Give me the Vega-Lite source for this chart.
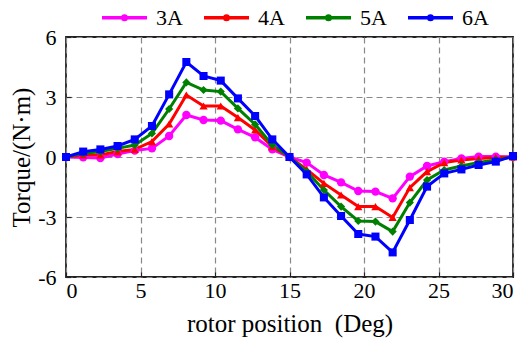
{
  "$schema": "https://vega.github.io/schema/vega-lite/v6.json",
  "width": 447,
  "height": 240,
  "autosize": {"type": "none"},
  "padding": {"left": 66, "top": 37, "right": 11, "bottom": 61},
  "background": "white",
  "config": {
    "view": {"stroke": "#222222", "strokeWidth": 1.8},
    "font": "Liberation Serif",
    "axis": {
      "labelFont": "Liberation Serif",
      "titleFont": "Liberation Serif",
      "labelColor": "black",
      "titleColor": "black",
      "titleFontWeight": "normal",
      "domain": false,
      "tickColor": "#222222",
      "tickSize": -5,
      "tickWidth": 1.2,
      "grid": true,
      "gridColor": "#888888",
      "gridDash": [6, 4],
      "gridWidth": 1.2,
      "labelFontSize": 22,
      "titleFontSize": 25
    },
    "legend": {"labelFont": "Liberation Serif"}
  },
  "datasets": {
    "torque": [
      {"pos": 0, "T": 0, "s": "3A"}, {"pos": 1.154, "T": -0.02, "s": "3A"}, {"pos": 2.308, "T": -0.05, "s": "3A"}, {"pos": 3.462, "T": 0.15, "s": "3A"}, {"pos": 4.615, "T": 0.32, "s": "3A"}, {"pos": 5.769, "T": 0.43, "s": "3A"}, {"pos": 6.923, "T": 1.05, "s": "3A"}, {"pos": 8.077, "T": 2.1, "s": "3A"}, {"pos": 9.231, "T": 1.85, "s": "3A"}, {"pos": 10.385, "T": 1.82, "s": "3A"}, {"pos": 11.538, "T": 1.38, "s": "3A"}, {"pos": 12.692, "T": 0.98, "s": "3A"}, {"pos": 13.846, "T": 0.38, "s": "3A"}, {"pos": 15, "T": 0, "s": "3A"}, {"pos": 16.154, "T": -0.28, "s": "3A"}, {"pos": 17.308, "T": -0.9, "s": "3A"}, {"pos": 18.462, "T": -1.27, "s": "3A"}, {"pos": 19.615, "T": -1.7, "s": "3A"}, {"pos": 20.769, "T": -1.73, "s": "3A"}, {"pos": 21.923, "T": -2.07, "s": "3A"}, {"pos": 23.077, "T": -0.98, "s": "3A"}, {"pos": 24.231, "T": -0.45, "s": "3A"}, {"pos": 25.385, "T": -0.23, "s": "3A"}, {"pos": 26.538, "T": -0.07, "s": "3A"}, {"pos": 27.692, "T": 0.02, "s": "3A"}, {"pos": 28.846, "T": 0.02, "s": "3A"}, {"pos": 30, "T": 0, "s": "3A"},
      {"pos": 0, "T": 0, "s": "4A"}, {"pos": 1.154, "T": 0.1, "s": "4A"}, {"pos": 2.308, "T": 0.1, "s": "4A"}, {"pos": 3.462, "T": 0.27, "s": "4A"}, {"pos": 4.615, "T": 0.38, "s": "4A"}, {"pos": 5.769, "T": 0.77, "s": "4A"}, {"pos": 6.923, "T": 1.65, "s": "4A"}, {"pos": 8.077, "T": 3.1, "s": "4A"}, {"pos": 9.231, "T": 2.55, "s": "4A"}, {"pos": 10.385, "T": 2.55, "s": "4A"}, {"pos": 11.538, "T": 1.97, "s": "4A"}, {"pos": 12.692, "T": 1.35, "s": "4A"}, {"pos": 13.846, "T": 0.52, "s": "4A"}, {"pos": 15, "T": 0, "s": "4A"}, {"pos": 16.154, "T": -0.62, "s": "4A"}, {"pos": 17.308, "T": -1.32, "s": "4A"}, {"pos": 18.462, "T": -1.9, "s": "4A"}, {"pos": 19.615, "T": -2.48, "s": "4A"}, {"pos": 20.769, "T": -2.48, "s": "4A"}, {"pos": 21.923, "T": -3.02, "s": "4A"}, {"pos": 23.077, "T": -1.53, "s": "4A"}, {"pos": 24.231, "T": -0.73, "s": "4A"}, {"pos": 25.385, "T": -0.28, "s": "4A"}, {"pos": 26.538, "T": -0.15, "s": "4A"}, {"pos": 27.692, "T": -0.07, "s": "4A"}, {"pos": 28.846, "T": -0.02, "s": "4A"}, {"pos": 30, "T": 0, "s": "4A"},
      {"pos": 0, "T": 0, "s": "5A"}, {"pos": 1.154, "T": 0.18, "s": "5A"}, {"pos": 2.308, "T": 0.27, "s": "5A"}, {"pos": 3.462, "T": 0.43, "s": "5A"}, {"pos": 4.615, "T": 0.6, "s": "5A"}, {"pos": 5.769, "T": 1.18, "s": "5A"}, {"pos": 6.923, "T": 2.4, "s": "5A"}, {"pos": 8.077, "T": 3.73, "s": "5A"}, {"pos": 9.231, "T": 3.35, "s": "5A"}, {"pos": 10.385, "T": 3.27, "s": "5A"}, {"pos": 11.538, "T": 2.43, "s": "5A"}, {"pos": 12.692, "T": 1.63, "s": "5A"}, {"pos": 13.846, "T": 0.6, "s": "5A"}, {"pos": 15, "T": 0, "s": "5A"}, {"pos": 16.154, "T": -0.73, "s": "5A"}, {"pos": 17.308, "T": -1.65, "s": "5A"}, {"pos": 18.462, "T": -2.48, "s": "5A"}, {"pos": 19.615, "T": -3.2, "s": "5A"}, {"pos": 20.769, "T": -3.23, "s": "5A"}, {"pos": 21.923, "T": -3.73, "s": "5A"}, {"pos": 23.077, "T": -2.28, "s": "5A"}, {"pos": 24.231, "T": -1.15, "s": "5A"}, {"pos": 25.385, "T": -0.65, "s": "5A"}, {"pos": 26.538, "T": -0.45, "s": "5A"}, {"pos": 27.692, "T": -0.28, "s": "5A"}, {"pos": 28.846, "T": -0.15, "s": "5A"}, {"pos": 30, "T": 0, "s": "5A"},
      {"pos": 0, "T": 0, "s": "6A"}, {"pos": 1.154, "T": 0.27, "s": "6A"}, {"pos": 2.308, "T": 0.38, "s": "6A"}, {"pos": 3.462, "T": 0.55, "s": "6A"}, {"pos": 4.615, "T": 0.88, "s": "6A"}, {"pos": 5.769, "T": 1.55, "s": "6A"}, {"pos": 6.923, "T": 3.13, "s": "6A"}, {"pos": 8.077, "T": 4.75, "s": "6A"}, {"pos": 9.231, "T": 4.05, "s": "6A"}, {"pos": 10.385, "T": 3.82, "s": "6A"}, {"pos": 11.538, "T": 2.93, "s": "6A"}, {"pos": 12.692, "T": 2.05, "s": "6A"}, {"pos": 13.846, "T": 0.88, "s": "6A"}, {"pos": 15, "T": 0, "s": "6A"}, {"pos": 16.154, "T": -0.87, "s": "6A"}, {"pos": 17.308, "T": -2.02, "s": "6A"}, {"pos": 18.462, "T": -2.95, "s": "6A"}, {"pos": 19.615, "T": -3.85, "s": "6A"}, {"pos": 20.769, "T": -3.98, "s": "6A"}, {"pos": 21.923, "T": -4.77, "s": "6A"}, {"pos": 23.077, "T": -3.15, "s": "6A"}, {"pos": 24.231, "T": -1.48, "s": "6A"}, {"pos": 25.385, "T": -0.82, "s": "6A"}, {"pos": 26.538, "T": -0.62, "s": "6A"}, {"pos": 27.692, "T": -0.4, "s": "6A"}, {"pos": 28.846, "T": -0.23, "s": "6A"}, {"pos": 30, "T": 0.05, "s": "6A"}
    ]
  },
  "data": {"name": "torque"},
  "encoding": {
    "x": {
      "field": "pos", "type": "quantitative",
      "scale": {"domain": [0, 30], "nice": false, "zero": false},
      "axis": {"values": [0, 5, 10, 15, 20, 25, 30], "title": "rotor position\u00a0 (Deg)", "labelFont": "Liberation Serif", "titleFont": "Liberation Serif", "labelPadding": 8, "titlePadding": 10}
    },
    "y": {
      "field": "T", "type": "quantitative",
      "scale": {"domain": [-6, 6], "nice": false},
      "axis": {"values": [-6, -3, 0, 3, 6], "title": "Torque/(N·m)", "labelFont": "Liberation Serif", "titleFont": "Liberation Serif", "labelExpr": "'' + datum.value", "labelPadding": 15, "titlePadding": 3}
    }
  },
  "resolve": {"legend": {"color": "independent"}},
  "layer": [
    {
      "mark": {"type": "line", "strokeWidth": 3},
      "encoding": {
        "color": {
          "field": "s", "type": "nominal",
          "scale": {"domain": ["3A", "4A", "5A", "6A"], "range": ["#FF00FF", "#FF0000", "#008000", "#0000FF"]},
          "legend": {
            "orient": "none", "legendX": 34, "legendY": -44,
            "direction": "horizontal", "title": null,
            "labelFont": "Liberation Serif", "labelFontSize": 22, "labelColor": "black",
            "symbolType": "M-1,0H1M-0.08,0A0.08,0.08 0 1,1 0.08,0A0.08,0.08 0 1,1 -0.08,0Z",
            "symbolSize": 2025, "symbolStrokeWidth": 3.5,
            "labelOffset": 7, "columnPadding": 14
          }
        }
      }
    },
    {
      "mark": {"type": "point", "filled": true, "opacity": 1},
      "encoding": {
        "color": {
          "field": "s", "type": "nominal",
          "scale": {"domain": ["3A", "4A", "5A", "6A"], "range": ["#FF00FF", "#FF0000", "#008000", "#0000FF"]},
          "legend": null
        },
        "shape": {
          "field": "s", "type": "nominal",
          "scale": {"domain": ["3A", "4A", "5A", "6A"], "range": ["circle", "triangle-up", "diamond", "square"]},
          "legend": null
        },
        "size": {
          "field": "s", "type": "nominal",
          "scale": {"domain": ["3A", "4A", "5A", "6A"], "range": [70, 65, 80, 80]},
          "legend": null
        }
      }
    }
  ]
}
